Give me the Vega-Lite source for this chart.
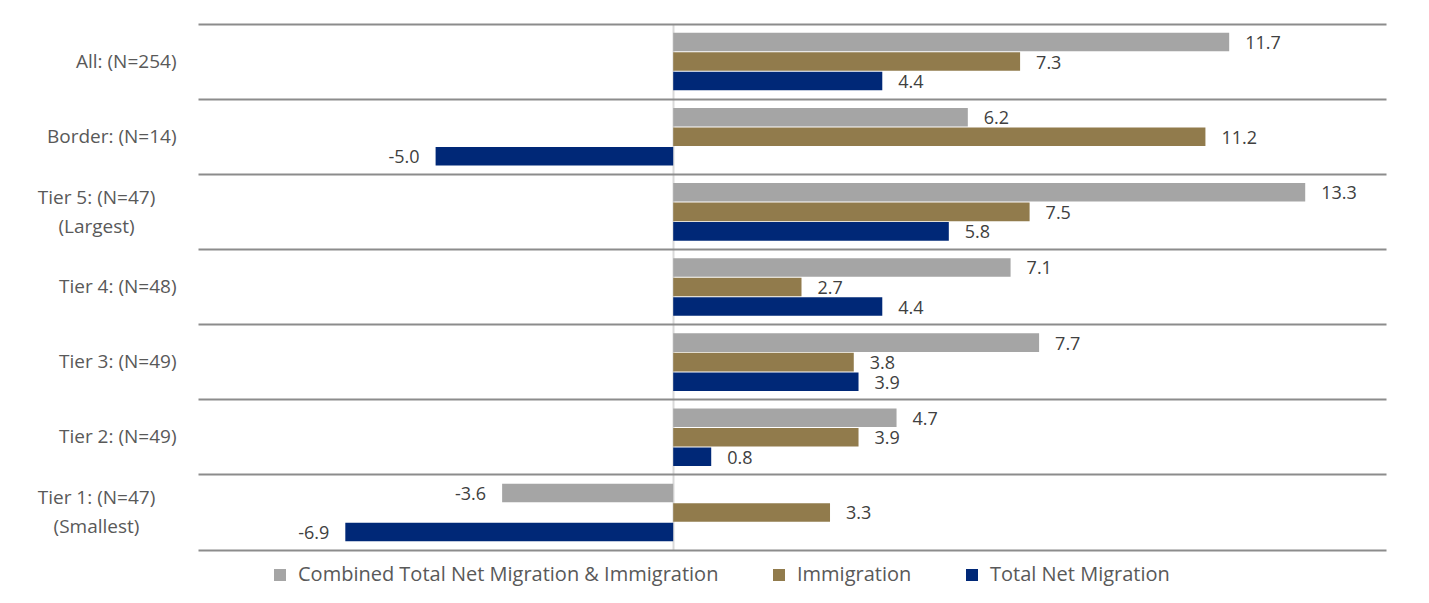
{
  "$schema": "https://vega.github.io/schema/vega-lite/v6.json",
  "autosize": "none",
  "width": 1188,
  "height": 526,
  "padding": {"left": 198, "top": 24, "right": 43, "bottom": 53},
  "background": "white",
  "config": {
    "view": {"stroke": null},
    "font": "Open Sans",
    "axis": {"labelFont": "Open Sans", "titleFont": "Open Sans"},
    "legend": {"labelFont": "Open Sans"},
    "locale": {
      "number": {"decimal": ".", "thousands": ",", "grouping": [3], "currency": ["$", ""], "minus": "-"}
    }
  },
  "data": {
    "values": [
      {"group": "All: (N=254)", "series": "Combined Total Net Migration & Immigration", "value": 11.7},
      {"group": "All: (N=254)", "series": "Immigration", "value": 7.3},
      {"group": "All: (N=254)", "series": "Total Net Migration", "value": 4.4},
      {"group": "Border: (N=14)", "series": "Combined Total Net Migration & Immigration", "value": 6.2},
      {"group": "Border: (N=14)", "series": "Immigration", "value": 11.2},
      {"group": "Border: (N=14)", "series": "Total Net Migration", "value": -5.0},
      {"group": "Tier 5: (N=47)|(Largest)", "series": "Combined Total Net Migration & Immigration", "value": 13.3},
      {"group": "Tier 5: (N=47)|(Largest)", "series": "Immigration", "value": 7.5},
      {"group": "Tier 5: (N=47)|(Largest)", "series": "Total Net Migration", "value": 5.8},
      {"group": "Tier 4: (N=48)", "series": "Combined Total Net Migration & Immigration", "value": 7.1},
      {"group": "Tier 4: (N=48)", "series": "Immigration", "value": 2.7},
      {"group": "Tier 4: (N=48)", "series": "Total Net Migration", "value": 4.4},
      {"group": "Tier 3: (N=49)", "series": "Combined Total Net Migration & Immigration", "value": 7.7},
      {"group": "Tier 3: (N=49)", "series": "Immigration", "value": 3.8},
      {"group": "Tier 3: (N=49)", "series": "Total Net Migration", "value": 3.9},
      {"group": "Tier 2: (N=49)", "series": "Combined Total Net Migration & Immigration", "value": 4.7},
      {"group": "Tier 2: (N=49)", "series": "Immigration", "value": 3.9},
      {"group": "Tier 2: (N=49)", "series": "Total Net Migration", "value": 0.8},
      {"group": "Tier 1: (N=47)|(Smallest)", "series": "Combined Total Net Migration & Immigration", "value": -3.6},
      {"group": "Tier 1: (N=47)|(Smallest)", "series": "Immigration", "value": 3.3},
      {"group": "Tier 1: (N=47)|(Smallest)", "series": "Total Net Migration", "value": -6.9}
    ]
  },
  "encoding": {
    "y": {
      "field": "group",
      "type": "nominal",
      "sort": null,
      "scale": {"paddingInner": 0, "paddingOuter": 0},
      "axis": {
        "title": null,
        "domain": false,
        "ticks": false,
        "grid": true,
        "bandPosition": 0,
        "gridColor": "#8c8c8c",
        "gridWidth": 2,
        "labelFontSize": 19,
        "labelColor": "#595959",
        "labelLineHeight": 29,
        "labelLimit": 300,
        "labelExpr": "split(datum.label, '|')",
        "labelAlign": {"condition": {"test": "indexof(datum.value, '|') >= 0", "value": "center"}, "value": "right"},
        "labelPadding": {"condition": {"test": "indexof(datum.value, '|') >= 0", "value": 102}, "value": 22},
        "labelOffset": {"condition": {"test": "indexof(datum.value, '|') >= 0", "value": -14}, "value": 0}
      }
    },
    "yOffset": {
      "field": "series",
      "type": "nominal",
      "sort": ["Combined Total Net Migration & Immigration", "Immigration", "Total Net Migration"],
      "scale": {"paddingInner": 0.05, "paddingOuter": 0.45}
    },
    "x": {
      "field": "value",
      "type": "quantitative",
      "scale": {"domain": [-10, 15], "nice": false, "zero": false},
      "axis": {
        "title": null,
        "labels": false,
        "ticks": false,
        "values": [0],
        "grid": true,
        "gridColor": "#d9d9d9",
        "gridWidth": 2,
        "domain": true,
        "domainColor": "#8c8c8c",
        "domainWidth": 2
      }
    }
  },
  "layer": [
    {
      "mark": {"type": "bar"},
      "encoding": {
        "color": {
          "field": "series",
          "type": "nominal",
          "scale": {
            "domain": ["Combined Total Net Migration & Immigration", "Immigration", "Total Net Migration"],
            "range": ["#a5a5a5", "#917b4c", "#002877"]
          },
          "legend": {
            "title": null,
            "orient": "none",
            "legendX": 72,
            "legendY": 541,
            "direction": "horizontal",
            "symbolType": "square",
            "symbolSize": 144,
            "symbolStrokeWidth": 0,
            "labelFontSize": 20,
            "labelLimit": 600,
            "labelOffset": 8,
            "labelColor": "#595959",
            "columnPadding": 50
          }
        }
      }
    },
    {
      "transform": [{"filter": "datum.value >= 0"}],
      "mark": {"type": "text", "align": "left", "dx": 16, "dy": 2, "fontSize": 18, "color": "#404040"},
      "encoding": {"text": {"field": "value", "type": "quantitative", "format": ".1f"}}
    },
    {
      "transform": [{"filter": "datum.value < 0"}],
      "mark": {"type": "text", "align": "right", "dx": -16, "dy": 2, "fontSize": 18, "color": "#404040"},
      "encoding": {"text": {"field": "value", "type": "quantitative", "format": ".1f"}}
    }
  ]
}
